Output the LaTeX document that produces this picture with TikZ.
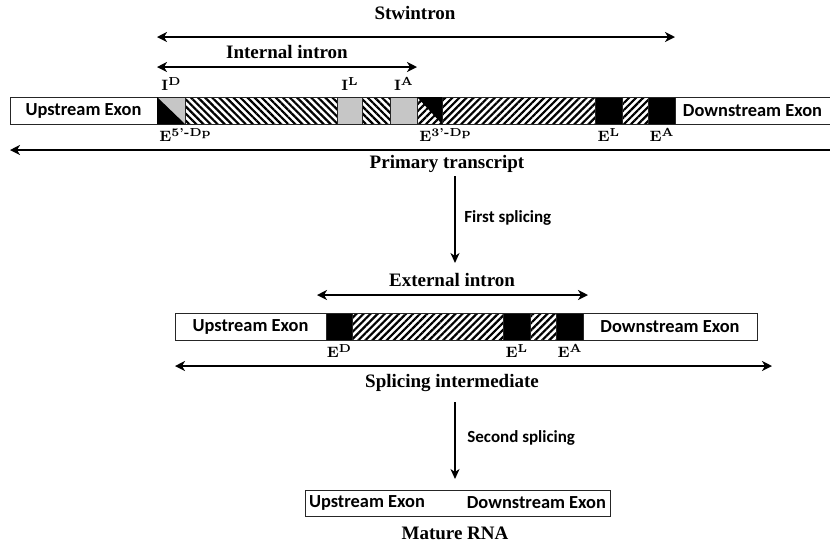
\documentclass[tikz,border=0pt]{standalone}
\usepackage{fontspec}
\setsansfont{Carlito}
\newfontfamily\capfont{Liberation Serif}
\usepackage{tikz}
\usetikzlibrary{arrows.meta,positioning,patterns.meta}
\definecolor{introngrey}{HTML}{C6C6C6}
\newcommand{\sitesup}[1]{\raisebox{0.75ex}{\fontsize{5.8}{6}\selectfont #1}}
\tikzset{
  seg/.style={draw=black!85,line width=0.5pt,minimum height=13.5pt,inner sep=0pt,outer sep=0pt},
  exon/.style={seg,font=\sffamily\bfseries\fontsize{9.2}{11}\selectfont},
  hatchback/.style={seg,pattern={Lines[angle=-45,distance=2.5pt,line width=1.1pt]}},
  hatchfwd/.style={seg,pattern={Lines[angle=45,distance=2.5pt,line width=1.1pt]}},
  greyseg/.style={seg,fill=introngrey},
  blackseg/.style={seg,fill=black},
  site/.style={font=\bfseries\fontsize{7.5}{9}\selectfont,inner sep=1pt},
  caption/.style={font=\capfont\bfseries\fontsize{9.5}{11}\selectfont,inner sep=1pt},
  stepnote/.style={font=\sffamily\bfseries\fontsize{8.5}{10}\selectfont,anchor=west,inner sep=0pt},
  span/.style={{Stealth[length=5pt,width=5pt,inset=1.5pt]}-{Stealth[length=5pt,width=5pt,inset=1.5pt]},line width=1.2pt},
  leftspan/.style={{Stealth[length=5pt,width=5pt,inset=1.5pt]}-,line width=1.2pt},
  flowarr/.style={-{Stealth[length=5pt,width=4.5pt,inset=1.5pt]},line width=1pt}
}
\begin{document}
\begin{tikzpicture}[x=0.5pt,y=-0.5pt]
  \useasboundingbox (0,0) rectangle (830,543);
  % primary transcript
  \node[exon,minimum width=73.5pt] (up1) at (83.5,110.5) {Upstream Exon};
  \node[greyseg,minimum width=14pt,right=0pt of up1] (ID) {};
  \node[hatchback,minimum width=76pt,right=0pt of ID] (ia) {};
  \node[greyseg,minimum width=12.5pt,right=0pt of ia] (IL) {};
  \node[hatchback,minimum width=14pt,right=0pt of IL] (ib) {};
  \node[greyseg,minimum width=13.5pt,right=0pt of ib] (IA) {};
  \node[hatchfwd,minimum width=12.5pt,right=0pt of IA] (E3) {};
  \node[hatchfwd,minimum width=76.5pt,right=0pt of E3] (ea) {};
  \node[blackseg,minimum width=13.5pt,right=0pt of ea] (EL1) {};
  \node[hatchfwd,minimum width=13pt,right=0pt of EL1] (eb) {};
  \node[blackseg,minimum width=13.5pt,right=0pt of eb] (EA1) {};
  \node[exon,minimum width=77.5pt,right=0pt of EA1] (down1) {Downstream Exon};
  \fill[black] (ID.north west) -- (ID.south east) -- (ID.south west) -- cycle;
  \fill[black] (E3.north west) -- (E3.north east) -- (E3.south east) -- cycle;
  \node[site,above=2pt of ID] {I\sitesup{D}};
  \node[site,above=2pt of IL] {I\sitesup{L}};
  \node[site,above=2pt of IA] {I\sitesup{A}};
  \node[site,anchor=north west] at ([yshift=-1pt]ID.south west) {E\sitesup{5'-Dp}};
  \node[site,anchor=north west] at ([yshift=-1pt]E3.south west) {E\sitesup{3'-Dp}};
  \node[site,below=1pt of EL1] {E\sitesup{L}};
  \node[site,below=1pt of EA1] {E\sitesup{A}};

  \node[caption] (stw) at (415,13) {Stwintron};
  \node[caption] (intl) at (287,52) {Internal intron};
  \node[caption] (ptl) at (447,164) {Primary transcript};
  \coordinate (stwy) at (0,37);
  \coordinate (inty) at (0,67);
  \coordinate (pty) at (0,150);
  \draw[span] (ID.west |- stwy) -- (EA1.east |- stwy);
  \draw[span] (ID.west |- inty) -- (IA.east |- inty);
  \draw[leftspan] (up1.west |- pty) -- (down1.east |- pty);

  % first splicing
  \coordinate (f1) at (455,176);
  \coordinate (f2) at (455,263);
  \draw[flowarr] (f1) -- (f2);
  \node[stepnote] (fs) at (464,218) {First splicing};

  % splicing intermediate
  \node[exon,minimum width=75.5pt] (up2) at (250.5,326.5) {Upstream Exon};
  \node[blackseg,minimum width=13pt,right=0pt of up2] (ED) {};
  \node[hatchfwd,minimum width=75.5pt,right=0pt of ED] (ec) {};
  \node[blackseg,minimum width=13.5pt,right=0pt of ec] (EL2) {};
  \node[hatchfwd,minimum width=13pt,right=0pt of EL2] (ed) {};
  \node[blackseg,minimum width=13.5pt,right=0pt of ed] (EA2) {};
  \node[exon,minimum width=87pt,right=0pt of EA2] (down2) {Downstream Exon};
  \node[site,below=1pt of ED] {E\sitesup{D}};
  \node[site,below=1pt of EL2] {E\sitesup{L}};
  \node[site,below=1pt of EA2] {E\sitesup{A}};

  \node[caption] (extl) at (452,280) {External intron};
  \node[caption] (sil) at (452,383) {Splicing intermediate};
  \coordinate (exty) at (0,295);
  \coordinate (siy) at (0,366);
  \draw[span] ([xshift=-4.5pt]ED.west |- exty) -- ([xshift=2.5pt]EA2.east |- exty);
  \draw[span] (up2.west |- siy) -- ([xshift=7.5pt]down2.east |- siy);

  % second splicing
  \coordinate (g1) at (455,402);
  \coordinate (g2) at (455,479);
  \draw[flowarr] (g1) -- (g2);
  \node[stepnote] (ss) at (467,438) {Second splicing};

  % mature RNA
  \node[seg,minimum width=152.5pt,minimum height=13pt] (mat) at (457.5,503) {};
  \node[exon,draw=none,anchor=west] (up3) at ([xshift=2pt]mat.west) {Upstream Exon};
  \node[exon,draw=none,anchor=east] (down3) at ([xshift=-2pt]mat.east) {Downstream Exon};
  \node[caption] (mrl) at (455,533) {Mature RNA};
\end{tikzpicture}
\end{document}
